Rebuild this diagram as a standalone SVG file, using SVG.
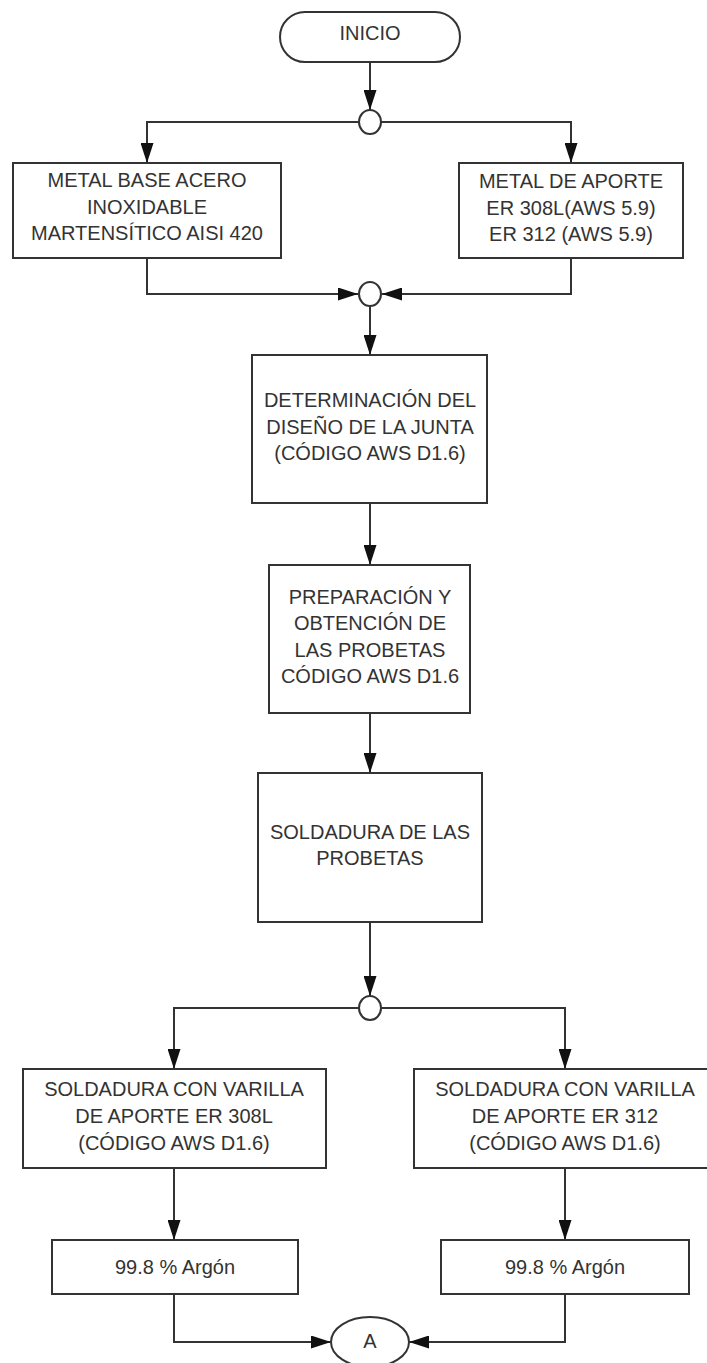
<svg xmlns="http://www.w3.org/2000/svg" width="707" height="1363" viewBox="0 0 707 1363">
<defs>
<style>
.box{fill:#fff;stroke:#333;stroke-width:2}
.t{font-family:"Liberation Sans",Arial,sans-serif;font-size:20px;fill:#333;text-anchor:middle}
.c{fill:none;stroke:#333;stroke-width:2}
</style>
<marker id="arr" markerUnits="userSpaceOnUse" markerWidth="20" markerHeight="13" refX="20" refY="6.5" orient="auto">
<path d="M0,0 L20,6.5 L0,13 z" fill="#111"/>
</marker>
</defs>
<rect width="707" height="1363" fill="#fff"/>
<g id="connectors">
<path class="c" d="M370,62 V110" marker-end="url(#arr)"/>
<path class="c" d="M359,122 H147 V163" marker-end="url(#arr)"/>
<path class="c" d="M381,122 H571 V163" marker-end="url(#arr)"/>
<path class="c" d="M147,258 V294 H358" marker-end="url(#arr)"/>
<path class="c" d="M571,258 V294 H382" marker-end="url(#arr)"/>
<path class="c" d="M370,306 V355" marker-end="url(#arr)"/>
<path class="c" d="M370,503 V565" marker-end="url(#arr)"/>
<path class="c" d="M370,713 V773" marker-end="url(#arr)"/>
<path class="c" d="M370,922 V996" marker-end="url(#arr)"/>
<path class="c" d="M359,1008 H174 V1069" marker-end="url(#arr)"/>
<path class="c" d="M381,1008 H565 V1069" marker-end="url(#arr)"/>
<path class="c" d="M174,1168 V1240" marker-end="url(#arr)"/>
<path class="c" d="M565,1168 V1240" marker-end="url(#arr)"/>
<path class="c" d="M174,1294 V1342 H331" marker-end="url(#arr)"/>
<path class="c" d="M565,1294 V1342 H409" marker-end="url(#arr)"/>
</g>
<g id="inicio">
<rect class="box" x="280" y="12" width="180" height="50" rx="25" ry="25"/>
<text class="t" x="370" y="40">INICIO</text>
</g>
<g id="junction1"><ellipse class="box" cx="370" cy="122" rx="11" ry="12"/></g>
<g id="metal-base">
<rect class="box" x="13" y="163" width="268" height="95"/>
<text class="t" x="147" y="187">METAL BASE ACERO</text>
<text class="t" x="147" y="214">INOXIDABLE</text>
<text class="t" x="147" y="240">MARTENSÍTICO AISI 420</text>
</g>
<g id="metal-aporte">
<rect class="box" x="459" y="163" width="224" height="95"/>
<text class="t" x="571" y="188">METAL DE APORTE</text>
<text class="t" x="571" y="215">ER 308L(AWS 5.9)</text>
<text class="t" x="571" y="241">ER 312 (AWS 5.9)</text>
</g>
<g id="junction2"><ellipse class="box" cx="370" cy="294" rx="11" ry="12"/></g>
<g id="determinacion">
<rect class="box" x="252" y="355" width="235" height="148"/>
<text class="t" x="370" y="407">DETERMINACIÓN DEL</text>
<text class="t" x="370" y="434">DISEÑO DE LA JUNTA</text>
<text class="t" x="370" y="460">(CÓDIGO AWS D1.6)</text>
</g>
<g id="preparacion">
<rect class="box" x="269" y="565" width="201" height="148"/>
<text class="t" x="370" y="604">PREPARACIÓN Y</text>
<text class="t" x="370" y="630">OBTENCIÓN DE</text>
<text class="t" x="370" y="657">LAS PROBETAS</text>
<text class="t" x="370" y="683">CÓDIGO AWS D1.6</text>
</g>
<g id="soldadura">
<rect class="box" x="258" y="773" width="224" height="149"/>
<text class="t" x="370" y="839">SOLDADURA DE LAS</text>
<text class="t" x="370" y="865">PROBETAS</text>
</g>
<g id="junction3"><ellipse class="box" cx="370" cy="1008" rx="11" ry="12"/></g>
<g id="soldadura-308l">
<rect class="box" x="23" y="1069" width="303" height="99"/>
<text class="t" x="174" y="1096">SOLDADURA CON VARILLA</text>
<text class="t" x="174" y="1123">DE APORTE ER 308L</text>
<text class="t" x="174" y="1150">(CÓDIGO AWS D1.6)</text>
</g>
<g id="soldadura-312">
<rect class="box" x="414" y="1069" width="302" height="99"/>
<text class="t" x="565" y="1096">SOLDADURA CON VARILLA</text>
<text class="t" x="565" y="1123">DE APORTE ER 312</text>
<text class="t" x="565" y="1150">(CÓDIGO AWS D1.6)</text>
</g>
<g id="argon-left">
<rect class="box" x="52" y="1240" width="246" height="54"/>
<text class="t" x="175" y="1274">99.8 % Argón</text>
</g>
<g id="argon-right">
<rect class="box" x="441" y="1240" width="248" height="54"/>
<text class="t" x="565" y="1274">99.8 % Argón</text>
</g>
<g id="conector-a">
<ellipse class="box" cx="370" cy="1342" rx="39" ry="25"/>
<text class="t" x="370" y="1348">A</text>
</g>
</svg>
